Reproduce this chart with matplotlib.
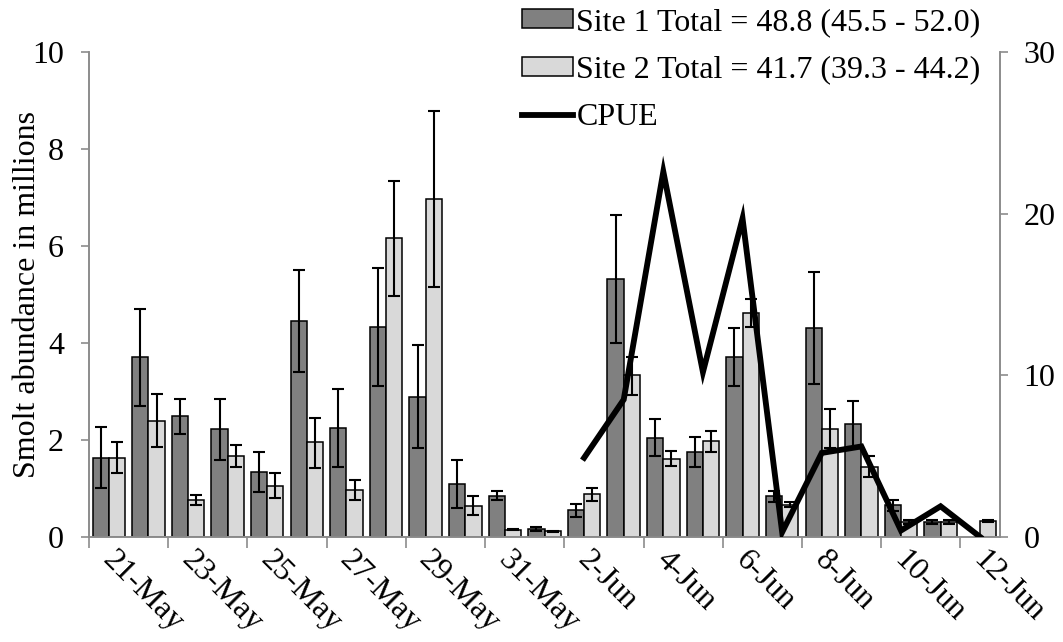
import numpy as np
import pandas as pd
import matplotlib
matplotlib.use("Agg")
import matplotlib.pyplot as plt

plt.rcParams["font.family"] = ["Liberation Serif", "DejaVu Serif"]
plt.rcParams["font.size"] = 23

# daily estimates, 21 May - 12 Jun
days = pd.date_range("2013-05-21", "2013-06-12", freq="D")
day_labels = [f"{d.day}-{d.strftime('%b')}" for d in days]

site1 = [1.63, 3.71, 2.49, 2.22, 1.35, 4.46, 2.25, 4.33, 2.89, 1.09, 0.85, 0.16,
         0.56, 5.31, 2.04, 1.76, 3.72, 0.85, 4.31, 2.33, 0.66, 0.31, np.nan]
site1_lo = [1.02, 2.70, 2.13, 1.58, 0.93, 3.41, 1.44, 3.11, 1.83, 0.59, 0.76, 0.12,
            0.42, 4.00, 1.67, 1.45, 3.11, 0.73, 3.15, 1.85, 0.54, 0.27, np.nan]
site1_hi = [2.26, 4.70, 2.85, 2.84, 1.76, 5.51, 3.06, 5.55, 3.95, 1.59, 0.95, 0.20,
            0.69, 6.63, 2.44, 2.06, 4.31, 0.95, 5.47, 2.80, 0.77, 0.36, np.nan]

site2 = [1.63, 2.39, 0.76, 1.68, 1.05, 1.95, 0.97, 6.16, 6.96, 0.64, 0.15, 0.12,
         0.88, 3.33, 1.61, 1.98, 4.62, 0.66, 2.22, 1.45, 0.31, 0.31, 0.33]
site2_lo = [1.32, 1.85, 0.66, 1.45, 0.80, 1.42, 0.77, 4.97, 5.15, 0.45, 0.14, 0.10,
            0.75, 2.93, 1.47, 1.76, 4.33, 0.61, 1.83, 1.23, 0.27, 0.27, 0.31]
site2_hi = [1.96, 2.94, 0.86, 1.90, 1.31, 2.46, 1.17, 7.35, 8.78, 0.84, 0.16, 0.13,
            1.01, 3.72, 1.77, 2.19, 4.90, 0.73, 2.63, 1.66, 0.36, 0.36, 0.36]

cpue = [np.nan] * 12 + [4.9, 8.5, 22.6, 10.2, 19.7, 0.3, 5.2, 5.6, 0.4, 1.9, 0.0]

site1_label = "Site 1 Total = 48.8 (45.5 - 52.0)"
site2_label = "Site 2 Total = 41.7 (39.3 - 44.2)"

x = np.arange(len(days))
s1 = np.array(site1)
s2 = np.array(site2)
err1 = [s1 - np.array(site1_lo), np.array(site1_hi) - s1]
err2 = [s2 - np.array(site2_lo), np.array(site2_hi) - s2]

W, H = 1063, 642
fig = plt.figure(figsize=(W / 100, H / 100), dpi=100)
ax = fig.add_axes([89 / W, 1 - 537 / H, 911 / W, 485 / H])

bw = 0.41
ekw = dict(ecolor="black", elinewidth=1.5, capsize=4.3, capthick=1.5)
b1 = ax.bar(x - bw / 2, s1, bw, color="#808080", edgecolor="black", linewidth=1.1,
            yerr=err1, error_kw=ekw, label=site1_label, zorder=2)
b2 = ax.bar(x + bw / 2, s2, bw, color="#d9d9d9", edgecolor="black", linewidth=1.1,
            yerr=err2, error_kw=ekw, label=site2_label, zorder=2)

ax.set_xlim(-0.5, len(days) - 0.5)
ax.set_ylim(0, 10)
ax.set_yticks(range(0, 11, 2))
ax.set_ylabel("Smolt abundance in millions")
ax.yaxis.set_label_coords(-0.052, 0.5)

# labels every second day (nudged right of the bar pair), tick marks on the
# category boundaries
ax.set_xticks(x[::2] + 0.2)
ax.set_xticklabels(day_labels[::2], rotation=-45, ha="left", va="top",
                   rotation_mode="anchor")
ax.set_xticks(np.arange(-0.5, len(days) - 1, 2), minor=True)
ax.tick_params(axis="x", which="major", length=0, pad=6)
ax.tick_params(axis="x", which="minor", length=8, width=1.2, color="#8c8c8c")
ax.tick_params(axis="y", length=6, width=1.2, color="#8c8c8c", pad=12)

ax2 = ax.twinx()
line, = ax2.plot(x, cpue, color="black", linewidth=4.2, solid_joinstyle="miter",
                 label="CPUE", zorder=3)
ax2.set_ylim(0, 30)
ax2.set_yticks([0, 10, 20, 30])
ax2.tick_params(axis="y", length=6, width=1.2, color="#8c8c8c", pad=11)

for a in (ax, ax2):
    a.spines["top"].set_visible(False)
    for s in ("left", "right", "bottom"):
        a.spines[s].set_color("#8c8c8c")
        a.spines[s].set_linewidth(1.2)

fig.legend([b1, b2, line], [site1_label, site2_label, "CPUE"],
           loc="upper left", bbox_to_anchor=(522 / W, 1 - 8 / H),
           frameon=False, borderpad=0, borderaxespad=0,
           handlelength=1.6, handleheight=0.55, handletextpad=0.1,
           labelspacing=0.58)

fig.savefig("out.png", dpi=100)
